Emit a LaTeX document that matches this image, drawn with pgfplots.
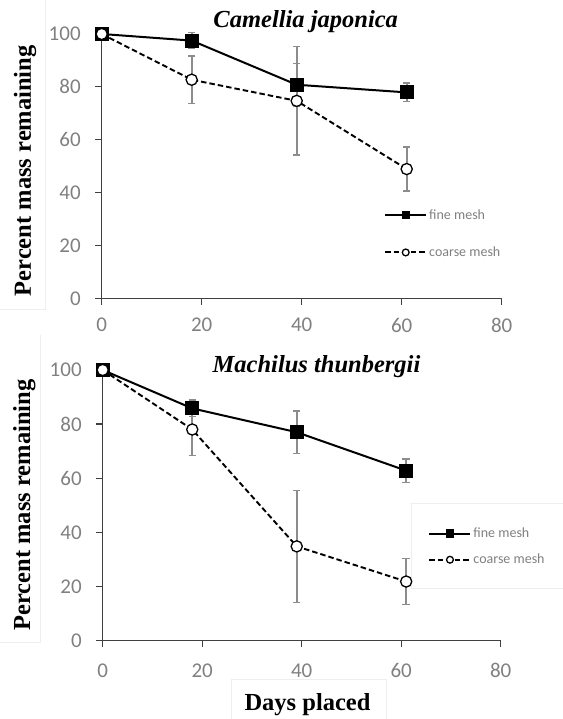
\documentclass[border=0pt]{standalone}
\usepackage{pgfplots}
\pgfplotsset{compat=1.18}
\usepackage{fontspec}
\setmainfont{Liberation Serif}
\newfontfamily\carl{Carlito}
\definecolor{axc}{RGB}{64,64,64}
\definecolor{tkc}{RGB}{128,128,128}
\definecolor{erc}{RGB}{140,140,140}
\definecolor{fnt}{RGB}{238,238,238}

\pgfplotsset{
  panel/.style={
    scale only axis, xmin=0, xmax=80, ymin=0, ymax=100,
    xtick={0,20,40,60,80}, ytick={0,20,40,60,80,100},
    axis lines=left, axis line style={-, axc, line width=1.4pt},
    tick align=outside, major tick length=6.5pt,
    tick style={axc, line width=1.3pt},
    tick label style={font=\fontsize{21}{21}\selectfont\carl, text=tkc},
    yticklabel style={xshift=-11pt},
    /pgf/number format/assume math mode=true,
    clip=false,
    legend style={draw=none, fill=none, font=\fontsize{14}{14}\selectfont\carl,
      text=tkc, inner sep=0pt, cells={anchor=west}},
    legend image code/.code={\draw[mark repeat=2,mark phase=2,#1,mark size=3.4pt]
      plot coordinates {(0pt,0pt)(20.5pt,0pt)(41pt,0pt)};},
  },
  fine/.style={black, line width=2pt, mark=square*, mark size=6.2pt,
    mark options={solid, fill=black, line width=1.5pt}},
  coarse/.style={black, line width=1.9pt, dash pattern=on 5.5pt off 3pt, mark=*,
    mark size=5.6pt, mark options={solid, fill=white, line width=1.3pt}},
  errs/.style={error bars/.cd, y dir=both, y explicit,
    error bar style={draw=erc, line width=1.7pt, solid},
    error mark options={rotate=90, mark size=3.7pt, line width=1.6pt, draw=erc, solid}},
}

\begin{document}
\begin{tikzpicture}
\useasboundingbox (0pt,0pt) rectangle (562pt,719pt);
% faint frame remnants of the source figure
\draw[fnt, line width=1pt] (45pt,719pt) -- (45pt,409pt) -- (0pt,409pt);
\draw[fnt, line width=1pt] (40pt,384pt) -- (40pt,76pt) -- (0pt,76pt);
\draw[fnt, line width=1pt] (231pt,0pt) -- (231pt,39pt) -- (386pt,39pt) -- (386pt,0pt);
% legend frame of the lower panel
\draw[fnt, fill=white, line width=1pt] (411pt,215pt) rectangle (580pt,130pt);

% ---------------- top panel ----------------
\begin{axis}[panel, at={(101.7pt,420.7pt)}, anchor=south west,
  width=400pt, height=264.3pt,
  xticklabel style={yshift=-10pt},
  legend style={at={(0.7058,0.2439)}, anchor=west, row sep=22pt},
  legend cell align=left]
\addplot[forget plot, draw=none, mark=none, errs] coordinates {
  (18,82.7) +- (0,9.0)
  (39,74.7) +- (0,20.5)
  (61,48.9) +- (0,8.3)
};
\addplot[fine, errs] coordinates {
  (0,100) +- (0,0)
  (18,97.5) +- (0,3.0)
  (39,80.8) +- (0,8.0)
  (61,77.9) +- (0,3.5)
};
\addlegendentry{fine mesh}
\addplot[coarse] coordinates {
  (0,100) (18,82.7) (39,74.7) (61,48.9)
};
\addlegendentry{coarse mesh}
\end{axis}

% ---------------- bottom panel ----------------
\begin{axis}[panel, at={(102.7pt,78.5pt)}, anchor=south west,
  width=398pt, height=270.5pt,
  xticklabel style={yshift=-13pt},
  legend style={at={(0.818,0.347)}, anchor=west, row sep=11pt},
  legend cell align=left]
\addplot[forget plot, draw=none, mark=none, errs] coordinates {
  (18,78.0) +- (0,9.6)
  (39,34.8) +- (0,20.7)
  (61,21.8) +- (0,8.5)
};
\addplot[fine, errs] coordinates {
  (0,100) +- (0,0)
  (18,85.8) +- (0,3.0)
  (39,77.0) +- (0,7.9)
  (61,62.8) +- (0,4.4)
};
\addlegendentry{fine mesh}
\addplot[coarse] coordinates {
  (0,100) (18,78.0) (39,34.8) (61,21.8)
};
\addlegendentry{coarse mesh}
\end{axis}

% titles and axis labels
\node[anchor=base, font=\fontsize{24.5}{24.5}\selectfont\bfseries\itshape] at (305.7pt,691.5pt) {Camellia japonica};
\node[anchor=base, font=\fontsize{24.5}{24.5}\selectfont\bfseries\itshape] at (316.5pt,346.7pt) {Machilus thunbergii};
\node[anchor=base, font=\fontsize{24.5}{24.5}\selectfont\bfseries] at (307.5pt,8.3pt) {Days placed};
\node[rotate=90, font=\fontsize{24.5}{24.5}\selectfont\bfseries] at (25pt,548.2pt) {Percent mass remaining};
\node[rotate=90, font=\fontsize{24.5}{24.5}\selectfont\bfseries] at (24.3pt,214pt) {Percent mass remaining};
\end{tikzpicture}
\end{document}
